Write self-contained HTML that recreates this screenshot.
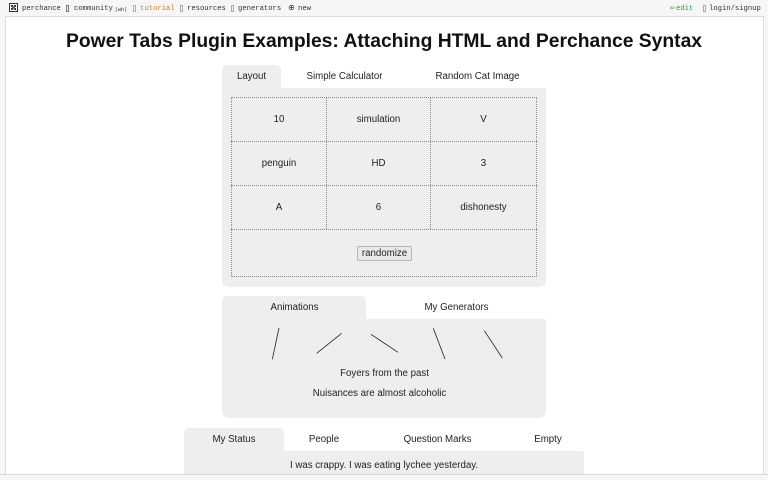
<!DOCTYPE html>
<html>
<head>
<meta charset="utf-8">
<style>
*{margin:0;padding:0;box-sizing:border-box}
html,body{width:768px;height:480px;overflow:hidden;background:#f6f6f6;font-family:"Liberation Sans",Arial,sans-serif;color:#222}
#root{position:relative;width:768px;height:480px}
.nav{position:absolute;top:4px;font-family:"Liberation Mono",monospace;font-size:7.2px;line-height:10px;color:#333;white-space:nowrap}
.tofu{position:absolute;top:5px;width:3px;height:7px;border:1px solid #777}
#frame{position:absolute;left:5px;top:16px;width:759px;height:459px;background:#fff;border:1px solid #ddd;overflow:hidden}
.abs{position:absolute}
.t{position:absolute;font-size:9.7px;line-height:12px;white-space:nowrap;transform:translateX(-50%);color:#222}
.grey{background:#eeeeee}
</style>
</head>
<body>
<div id="root">
  <!-- nav bar -->
  <div class="abs" style="left:9px;top:3px;width:9px;height:9px;border:1px solid #333;background:#fff">
    <div class="abs" style="left:1px;top:1px;width:2px;height:2px;background:#333"></div>
    <div class="abs" style="left:4px;top:1px;width:2px;height:2px;background:#333"></div>
    <div class="abs" style="left:1px;top:4px;width:2px;height:2px;background:#333"></div>
    <div class="abs" style="left:4px;top:4px;width:2px;height:2px;background:#333"></div>
    <div class="abs" style="left:2px;top:2px;width:3px;height:3px;background:#666"></div>
  </div>
  <div class="nav" style="left:22px">perchance</div>
  <div class="tofu" style="left:66px"></div>
  <div class="nav" style="left:74px">community</div>
  <div class="nav" style="left:115px;font-size:5px;top:5px">(wh)</div>
  <div class="tofu" style="left:133px;border-color:#e8a060"></div>
  <div class="nav" style="left:140px;color:#e07a2a">tutorial</div>
  <div class="tofu" style="left:180px;border-color:#aaa"></div>
  <div class="nav" style="left:187px">resources</div>
  <div class="tofu" style="left:231px;border-color:#aaa"></div>
  <div class="nav" style="left:238px">generators</div>
  <div class="nav" style="left:288px;font-family:'DejaVu Sans',sans-serif;font-size:8px;top:3px">⊕</div>
  <div class="nav" style="left:298px">new</div>
  <div class="nav" style="left:670px;color:#3a9a3a;font-family:'DejaVu Sans',sans-serif;font-size:6px;top:4px">✏</div>
  <div class="nav" style="left:676px;color:#3a9a3a">edit</div>
  <div class="tofu" style="left:703px;border-color:#aaa"></div>
  <div class="nav" style="left:709px">login/signup</div>

  <div id="frame"></div>

  <!-- title -->
  <div class="abs" style="left:0;top:30px;width:768px;text-align:center;font-weight:bold;font-size:19.3px;line-height:24px;color:#111;white-space:nowrap">Power Tabs Plugin Examples: Attaching HTML and Perchance Syntax</div>

  <!-- Tabs 1 -->
  <div class="abs grey" style="left:222px;top:65px;width:59px;height:24px;border-radius:5px 5px 0 0"></div>
  <div class="abs grey" style="left:222px;top:88px;width:324px;height:199px;border-radius:0 2px 7px 7px"></div>
  <div class="t" style="left:251.5px;top:71px">Layout</div>
  <div class="t" style="left:344.5px;top:71px">Simple Calculator</div>
  <div class="t" style="left:477.5px;top:71px">Random Cat Image</div>

  <!-- grid -->
  <div class="abs" style="left:231px;top:97px;width:306px;height:180px;border:1px dotted #8a8a8a"></div>
  <div class="abs" style="left:231px;top:141px;width:306px;height:0;border-top:1px dotted #8a8a8a"></div>
  <div class="abs" style="left:231px;top:185px;width:306px;height:0;border-top:1px dotted #8a8a8a"></div>
  <div class="abs" style="left:231px;top:229px;width:306px;height:0;border-top:1px dotted #8a8a8a"></div>
  <div class="abs" style="left:326px;top:97px;width:0;height:132px;border-left:1px dotted #8a8a8a"></div>
  <div class="abs" style="left:430px;top:97px;width:0;height:132px;border-left:1px dotted #8a8a8a"></div>

  <div class="t" style="left:279px;top:114px">10</div>
  <div class="t" style="left:378.5px;top:114px">simulation</div>
  <div class="t" style="left:483.5px;top:114px">V</div>
  <div class="t" style="left:279px;top:158px">penguin</div>
  <div class="t" style="left:378.5px;top:158px">HD</div>
  <div class="t" style="left:483.5px;top:158px">3</div>
  <div class="t" style="left:279px;top:202px">A</div>
  <div class="t" style="left:378.5px;top:202px">6</div>
  <div class="t" style="left:483.5px;top:202px">dishonesty</div>

  <div class="abs" style="left:357px;top:246px;width:55px;height:15px;background:#e9e9e9;border:1px solid #b5b5b5;border-radius:2px"></div>
  <div class="t" style="left:384.5px;top:248px">randomize</div>

  <!-- Tabs 2 -->
  <div class="abs grey" style="left:222px;top:296px;width:144px;height:24px;border-radius:5px 5px 0 0"></div>
  <div class="abs grey" style="left:222px;top:319px;width:324px;height:99px;border-radius:0 2px 7px 7px"></div>
  <div class="t" style="left:294.5px;top:302px">Animations</div>
  <div class="t" style="left:456.5px;top:302px">My Generators</div>
  <svg class="abs" style="left:0;top:0" width="768" height="480">
    <g stroke="#222" stroke-width="0.8" fill="none">
      <line x1="279" y1="328" x2="272.3" y2="359.3"/>
      <line x1="341.7" y1="333.3" x2="316.7" y2="353.3"/>
      <line x1="371" y1="334.3" x2="398" y2="352.3"/>
      <line x1="433.3" y1="328.3" x2="445" y2="359"/>
      <line x1="484.3" y1="330.7" x2="502.3" y2="358"/>
    </g>
  </svg>
  <div class="t" style="left:384.5px;top:368px">Foyers from the past</div>
  <div class="t" style="left:379.5px;top:388px">Nuisances are almost alcoholic</div>

  <!-- Tabs 3 -->
  <div class="abs grey" style="left:184px;top:428px;width:100px;height:24px;border-radius:5px 5px 0 0"></div>
  <div class="abs grey" style="left:184px;top:451px;width:400px;height:23px;border-radius:0 2px 0 0"></div>
  <div class="t" style="left:234px;top:434px">My Status</div>
  <div class="t" style="left:324px;top:434px">People</div>
  <div class="t" style="left:437.5px;top:434px">Question Marks</div>
  <div class="t" style="left:548px;top:434px">Empty</div>
  <div class="t" style="left:384px;top:460px">I was crappy. I was eating lychee yesterday.</div>

  <!-- frame bottom line -->
  <div class="abs" style="left:0;top:474px;width:768px;height:1px;background:#d8d8d8"></div>
  <div class="abs" style="left:0;top:475px;width:768px;height:5px;background:#f6f6f6"></div>
</div>
</body>
</html>
